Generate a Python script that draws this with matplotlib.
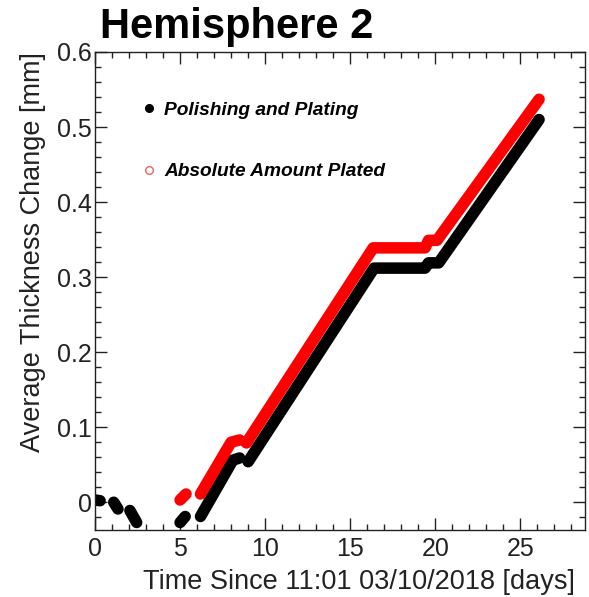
import numpy as np
import matplotlib
matplotlib.use("Agg")
import matplotlib.pyplot as plt
from matplotlib.lines import Line2D
from matplotlib.ticker import MultipleLocator, FuncFormatter

plt.rcParams['font.family'] = ['Liberation Sans', 'DejaVu Sans']

nan = np.nan
# Polishing and Plating (black) - read vertices, NaN separates gaps
black_x = [0.0, 0.3, nan, 1.1, 1.35, nan, 2.05, 2.45, nan, 5.0, 5.3, nan,
           6.2, 8.1, 8.5, nan, 9.0, 16.4, 19.4, 19.6, 20.2, 26.1]
black_y = [0.003, 0.002, nan, 0.0, -0.009, nan, -0.011, -0.027, nan, -0.027, -0.019, nan,
           -0.019, 0.056, 0.059, nan, 0.054, 0.312, 0.312, 0.319, 0.319, 0.510]
# Absolute Amount Plated (red)
red_x = [5.0, 5.35, nan, 6.2, 8.0, 8.5, nan, 8.9, 16.35, 19.4, 19.6, 20.1, 26.1]
red_y = [0.003, 0.011, nan, 0.011, 0.080, 0.083, nan, 0.079, 0.339, 0.339, 0.349, 0.349, 0.537]

labels = ["Polishing and Plating", "Absolute Amount Plated"]
title = "Hemisphere 2"
xlabel = "Time Since 11:01 03/10/2018 [days]"
ylabel = "Average Thickness Change [mm]"

W, H = 589, 597
fig = plt.figure(figsize=(W / 100, H / 100), dpi=100)
ax = fig.add_axes([95 / W, (H - 530) / H, 490 / W, 478 / H])

lw = 8.3
ax.plot(black_x, black_y, color='black', lw=lw, solid_capstyle='round',
        solid_joinstyle='round', zorder=2)
ax.plot(red_x, red_y, color='#ff0000', lw=lw, solid_capstyle='round',
        solid_joinstyle='round', zorder=3)

ax.set_xlim(0, 28.8)
ax.set_ylim(-0.037, 0.6)

ax.xaxis.set_major_locator(MultipleLocator(5))
ax.xaxis.set_minor_locator(MultipleLocator(1))
ax.yaxis.set_major_locator(MultipleLocator(0.1))
ax.yaxis.set_minor_locator(MultipleLocator(0.02))
ax.yaxis.set_major_formatter(FuncFormatter(lambda v, p: "0" if abs(v) < 1e-9 else f"{v:.1f}"))

ax.tick_params(which='both', direction='in', top=True, right=True, colors='#222222',
               labelsize=18, width=1.0)
ax.tick_params(which='major', length=8.5)
ax.tick_params(which='minor', length=4.3)
ax.tick_params(axis='x', pad=5)
ax.tick_params(axis='y', pad=2)
for s in ax.spines.values():
    s.set_color('#222222')
    s.set_linewidth(1.0)

ax.set_xlabel(xlabel, fontsize=19.5, loc='right', color='#222222')
ax.set_ylabel(ylabel, fontsize=19.5, loc='top', color='#222222')
ax.xaxis.set_label_coords(0.98, -0.082)
ax.yaxis.set_label_coords(-0.10, 1.0)

handles = [Line2D([], [], marker='o', color='black', ls='', markersize=5.5),
           Line2D([], [], marker='o', mfc='none', mec='#f06060', mew=1.0, ls='', markersize=5.5)]
ax.legend(handles, labels, loc='upper left', bbox_to_anchor=(0.09, 0.896), frameon=False,
          prop={'weight': 'bold', 'style': 'italic', 'size': 13.8}, borderpad=0,
          borderaxespad=0, handlelength=1.0, handletextpad=0.3, labelspacing=2.28)

fig.text(100 / W, 1 - 27 / H, title, fontsize=30, fontweight='bold', ha='left', va='center')

fig.savefig("out.png", dpi=100)
